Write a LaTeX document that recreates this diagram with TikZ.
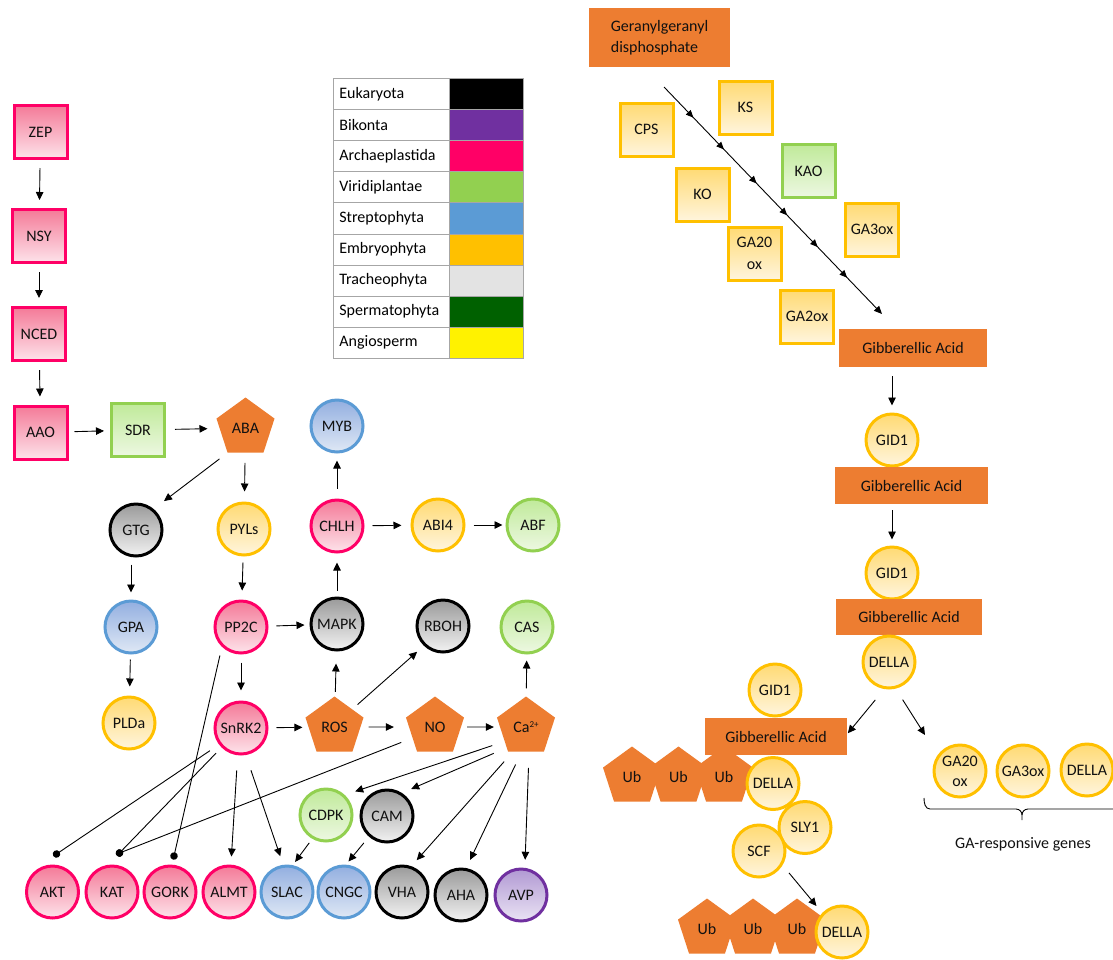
\documentclass[tikz,border=0pt]{standalone}
\usepackage{fontspec}
\setmainfont{Carlito}
\usetikzlibrary{shapes.geometric,arrows.meta,decorations.markings,calc}

\definecolor{pinkB}{HTML}{FF0066}
\definecolor{goldB}{HTML}{FFC000}
\definecolor{greenB}{HTML}{92D050}
\definecolor{blueB}{HTML}{5B9BD5}
\definecolor{purpB}{HTML}{7030A0}
\definecolor{orangeF}{HTML}{ED7D31}
\definecolor{txt}{HTML}{111111}
\definecolor{legline}{HTML}{A6A6A6}
\definecolor{lgray}{HTML}{E3E3E3}
\definecolor{dgreen}{HTML}{006100}
\definecolor{pinkT}{HTML}{F47A98}
\definecolor{pinkL}{HTML}{FDE3EA}
\definecolor{goldT}{HTML}{FFDA74}
\definecolor{goldL}{HTML}{FFF5DD}
\definecolor{greenT}{HTML}{C0EA9A}
\definecolor{greenL}{HTML}{EDF8E2}
\definecolor{blueT}{HTML}{93AFE0}
\definecolor{blueL}{HTML}{DFE8F5}
\definecolor{grayT}{HTML}{9A9A9A}
\definecolor{grayL}{HTML}{F2F2F2}
\definecolor{purpT}{HTML}{B199D3}
\definecolor{purpL}{HTML}{EAE3F4}

\tikzset{
  base/.style={font=\fontsize{16}{19}\selectfont, text=txt, inner sep=0pt, line width=3pt, align=center},
  circ/.style={base, circle, minimum size=52pt},
  sq/.style={base, rectangle, minimum size=53pt},
  pinkS/.style={draw=pinkB, top color=pinkT, bottom color=pinkL},
  goldS/.style={draw=goldB, top color=goldT, bottom color=goldL},
  greenS/.style={draw=greenB, top color=greenT, bottom color=greenL},
  blueS/.style={draw=blueB, top color=blueT, bottom color=blueL},
  grayS/.style={draw=black, top color=grayT, bottom color=grayL},
  purpS/.style={draw=purpB, top color=purpT, bottom color=purpL},
  pent/.style={regular polygon, regular polygon sides=5, minimum size=61pt, inner sep=0pt,
    fill=orangeF, font=\fontsize{16}{19}\selectfont, text=txt},
  bar/.style={rectangle, fill=orangeF, inner sep=0pt, font=\fontsize{16}{19}\selectfont, text=txt},
  arr/.style={-{Triangle[length=8pt,width=7.5pt]}, line width=0.9pt, shorten <=8pt, shorten >=8pt},
  inh/.style={-{Circle[length=7.5pt]}, line width=0.9pt, shorten >=-3.75pt},
  legtxt/.style={draw=legline, line width=0.8pt, minimum width=116pt, minimum height=31.1pt,
    text width=104pt, inner xsep=6pt, inner ysep=0pt, align=left,
    font=\fontsize{16}{19}\selectfont, text=black, anchor=north west},
  legsw/.style={draw=legline, line width=0.8pt, minimum width=74pt, minimum height=31.1pt,
    inner sep=0pt, anchor=north west}
}

\begin{document}
\begin{tikzpicture}[x=1pt,y=-1pt]
\useasboundingbox (0,0) rectangle (1113,959);
\fill[white] (0,0) rectangle (1113,959);

% ---------- legend ----------
\foreach \i/\nm/\col in {0/Eukaryota/black,1/Bikonta/purpB,2/Archaeplastida/pinkB,
  3/Viridiplantae/greenB,4/Streptophyta/blueB,5/Embryophyta/goldB,6/Tracheophyta/lgray,
  7/Spermatophyta/dgreen,8/Angiosperm/yellow}{
  \node[legtxt] (leg\i) at (333,78+31.1*\i) {\nm};
  \node[legsw, fill=\col] (sw\i) at (449,78+31.1*\i) {};
}

% ---------- ABA pathway ----------
\node[sq,pinkS] (zep) at (40.5,132) {ZEP};
\node[sq,pinkS] (nsy) at (39,236) {NSY};
\node[sq,pinkS] (nced) at (39,334) {NCED};
\node[sq,pinkS] (aao) at (40.5,432.5) {AAO};
\node[sq,greenS] (sdr) at (138,430) {SDR};
\node[pent] (aba) at (245.5,428) {ABA};

\node[circ,blueS] (myb) at (337,426) {MYB};
\node[circ,grayS] (gtg) at (136,530) {GTG};
\node[circ,goldS] (pyls) at (244,529) {PYLs};
\node[circ,pinkS] (chlh) at (337,526) {CHLH};
\node[circ,goldS] (abi4) at (438,525) {ABI4};
\node[circ,greenS] (abf) at (533,525) {ABF};
\node[circ,blueS] (gpa) at (131,627) {GPA};
\node[circ,pinkS] (pp2c) at (241,627) {PP2C};
\node[circ,grayS] (mapk) at (337,624) {MAPK};
\node[circ,grayS] (rboh) at (443,626) {RBOH};
\node[circ,greenS] (cas) at (527,627) {CAS};
\node[circ,goldS] (plda) at (129,723) {PLDa};
\node[circ,pinkS] (snrk2) at (241,728) {SnRK2};
\node[pent] (ros) at (334.5,727) {ROS};
\node[pent] (no) at (435,727) {NO};
\node[pent] (ca) at (526,727) {Ca\raisebox{5.5pt}{\fontsize{9}{9}\selectfont 2+}};
\node[circ,greenS] (cdpk) at (326,815) {CDPK};
\node[circ,grayS] (cam) at (387,816) {CAM};

\node[circ,pinkS] (akt) at (52.5,892) {AKT};
\node[circ,pinkS] (kat) at (112,892) {KAT};
\node[circ,pinkS] (gork) at (170,892) {GORK};
\node[circ,pinkS] (almt) at (229,892) {ALMT};
\node[circ,blueS] (slac) at (287,892) {SLAC};
\node[circ,blueS] (cngc) at (344,892) {CNGC};
\node[circ,grayS] (vha) at (402,892) {VHA};
\node[circ,grayS] (aha) at (461,895) {AHA};
\node[circ,purpS] (avp) at (521,895) {AVP};

\draw[arr] (zep) -- (nsy);
\draw[arr] (nsy) -- (nced);
\draw[arr] (nced) -- (aao);
\draw[arr,shorten <=6pt,shorten >=6pt] (aao) -- (sdr);
\draw[arr,shorten <=9pt,shorten >=12pt] (sdr) -- (aba);
\draw[arr,shorten <=10pt,shorten >=13pt] (aba.corner 3) -- (gtg.50);
\draw[arr,shorten <=10pt,shorten >=10pt] (aba) -- (pyls);
\draw[arr,shorten <=10pt,shorten >=7pt] (chlh) -- (myb);
\draw[arr,shorten <=8pt,shorten >=9pt] (chlh) -- (abi4);
\draw[arr,shorten <=8pt,shorten >=3pt] (abi4) -- (abf);
\draw[arr,shorten <=7pt,shorten >=7pt] (gpa |- gtg.south) -- (gpa);
\draw[arr,shorten <=6pt,shorten >=9pt] (pyls) -- (pp2c);
\draw[arr,shorten <=6pt,shorten >=9pt] (mapk) -- (chlh);
\draw[arr,shorten <=8pt,shorten >=5pt] (pp2c) -- (mapk);
\draw[arr,shorten <=5pt,shorten >=9pt] (gpa) -- (plda);
\draw[arr,shorten <=8pt,shorten >=10pt] (pp2c) -- (snrk2);
\draw[arr,shorten <=5pt,shorten >=12pt] (ros) -- (mapk);
\draw[arr,shorten <=7pt,shorten >=9pt] (ros.45) -- (rboh.226);
\draw[arr,shorten <=8pt,shorten >=6pt] (ca) -- (cas);
\draw[arr,shorten <=8pt,shorten >=6pt] (snrk2) -- (ros);
\draw[arr,shorten <=8pt,shorten >=15pt] (ros) -- (no);
\draw[arr,shorten <=6pt,shorten >=6pt] (no) -- (ca);

\coordinate (aktdot) at (56.5,854);
\coordinate (katdot) at (119.5,853);
\coordinate (gorkdot) at (174,856);
\draw[inh,shorten <=11pt] (snrk2.217) -- (aktdot);
\draw[inh,shorten <=8pt] (snrk2.225) -- (katdot);
\draw[inh,shorten <=12pt] (no.206) -- (katdot);
\draw[inh,shorten <=9pt] (pp2c.226) -- (gorkdot);

\draw[arr,shorten <=15pt,shorten >=8pt] (snrk2.263) -- (almt.86);
\draw[arr,shorten <=16pt,shorten >=9pt] (snrk2.280) -- (slac.98);
\draw[arr,shorten <=5pt,shorten >=4pt] (cdpk.240) -- (slac.78);
\draw[arr,shorten <=8pt,shorten >=4pt] (cam.229) -- (cngc.86);
\draw[arr,shorten <=13pt,shorten >=11pt] (ca.214) -- (cdpk.47);
\draw[arr,shorten <=14pt,shorten >=10pt] (ca.227) -- (cam.57);
\draw[arr,shorten <=13pt,shorten >=8pt] (ca.242) -- (vha.70);
\draw[arr,shorten <=14pt,shorten >=9pt] (ca.260) -- (aha.79);
\draw[arr,shorten <=16pt,shorten >=8pt] (ca.277) -- (avp.82);

% ---------- GA pathway ----------
\node[bar, minimum width=141pt, minimum height=59pt, align=left, font=\fontsize{16}{21}\selectfont] (ggpp) at (659.5,37.5) {Geranylgeranyl\\disphosphate};
\node[sq,goldS] (cps) at (646.5,129.5) {CPS};
\node[sq,goldS] (ks) at (745.5,107.5) {KS};
\node[sq,greenS] (kao) at (808.5,171) {KAO};
\node[sq,goldS] (ko) at (702.5,194.5) {KO};
\node[sq,goldS] (ga3ox) at (872,229.5) {GA3ox};
\node[sq,goldS, font=\fontsize{16}{22}\selectfont] (ga20ox) at (754.5,253.5) {GA20\\ox};
\node[sq,goldS] (ga2ox) at (807,316.5) {GA2ox};

\coordinate (gastart) at (664,87);
\coordinate (gaend) at (882,314);
\draw[line width=0.9pt, -{Triangle[length=8pt,width=7pt]}, postaction={decorate},
  decoration={markings,
    mark=at position 0.135 with {\arrow{Triangle[length=7.5pt,width=6.5pt]}},
    mark=at position 0.275 with {\arrow{Triangle[length=7.5pt,width=6.5pt]}},
    mark=at position 0.425 with {\arrow{Triangle[length=7.5pt,width=6.5pt]}},
    mark=at position 0.565 with {\arrow{Triangle[length=7.5pt,width=6.5pt]}},
    mark=at position 0.705 with {\arrow{Triangle[length=7.5pt,width=6.5pt]}},
    mark=at position 0.84 with {\arrow{Triangle[length=7.5pt,width=6.5pt]}}}]
  (gastart) -- (gaend);

\node[bar, minimum width=148pt, minimum height=38pt] (ga1) at (913,348) {Gibberellic Acid};
\node[circ,goldS] (gid1a) at (892,440) {GID1};
\node[bar, minimum width=153pt, minimum height=37pt] (ga2) at (911.5,485.5) {Gibberellic Acid};
\node[circ,goldS] (gid1b) at (892,573) {GID1};
\node[bar, minimum width=146pt, minimum height=36pt] (ga3) at (909,617) {Gibberellic Acid};
\node[circ,goldS] (della1) at (889,662) {DELLA};

\node[pent] (ub1) at (632,777) {Ub};
\node[pent] (ub2) at (678.5,777) {Ub};
\node[pent] (ub3) at (724,777) {Ub};
\node[circ,goldS] (gid1c) at (775,690) {GID1};
\node[circ,goldS] (sly1) at (805,827.5) {SLY1};
\node[circ,goldS] (dellaa) at (773,783.5) {DELLA};
\node[circ,goldS] (scf) at (759,851) {SCF};
\node[bar, minimum width=142pt, minimum height=37pt] (ga4) at (776,736.5) {Gibberellic Acid};

\node[pent] (ub4) at (707,929) {Ub};
\node[pent] (ub5) at (753,929) {Ub};
\node[pent] (ub6) at (797,929) {Ub};
\node[circ,goldS] (dellab) at (842,932) {DELLA};

\node[circ,goldS, font=\fontsize{16}{20}\selectfont] (g20) at (960,771) {GA20\\ox};
\node[circ,goldS] (g3) at (1023,771) {GA3ox};
\node[circ,goldS] (dellac) at (1087,770) {DELLA};
\node[base] (garesp) at (1023,844) {GA-responsive genes};

\draw[line width=0.9pt] (924,798) to[out=-90,in=180] (930,809) -- (1016,809)
  to[out=0,in=90] (1022,815) -- (1022,820);
\draw[line width=0.9pt] (1022,815) to[out=90,in=180] (1028,809) -- (1113,809);

\draw[arr,shorten <=9pt,shorten >=7pt] (gid1a |- ga1.south) -- (gid1a);
\draw[arr,shorten <=6pt,shorten >=6pt] (gid1b |- ga2.south) -- (gid1b);
\draw[arr,shorten <=14pt,shorten >=1pt] (della1.260) -- (ga4.2);
\coordinate (genes) at (925,735);
\draw[arr,shorten <=13pt,shorten >=0pt] (della1.284) -- (genes);
\draw[arr,shorten <=10pt,shorten >=9pt] (scf.329) -- (dellab.136);
\end{tikzpicture}
\end{document}
